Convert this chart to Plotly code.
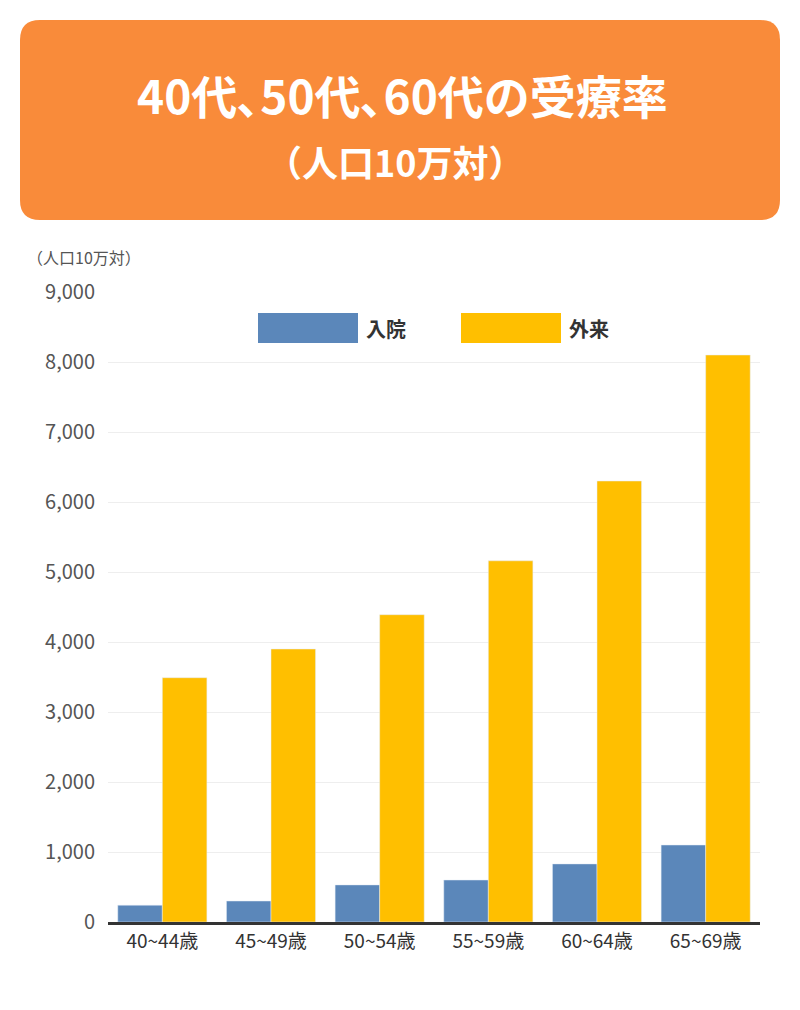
import plotly.graph_objects as go

ages = ["40~44歳", "45~49歳", "50~54歳", "55~59歳", "60~64歳", "65~69歳"]
inpatient = [240, 300, 530, 600, 830, 1100]
outpatient = [3490, 3900, 4390, 5160, 6300, 8100]
yticks = [0, 1000, 2000, 3000, 4000, 5000, 6000, 7000, 8000, 9000]

BLUE = "#5B87BA"
GOLD = "#FFBF00"
ORANGE = "#F98B3A"
FONT = "Noto Sans CJK JP"

# page has an 8px body margin, so the figure is drawn 8px smaller and offset
OFF = 8
W, H = 800 - OFF, 1010 - OFF
L, R, T, B = 108, 760, 292, 922  # plot area in window pixels
def px(x): return (x - L) / (R - L)
def py(y): return (B - y) / (B - T)
def ty(y, size): return py(y - 0.82 * size)  # CJK font box correction

fig = go.Figure()
fig.add_bar(x=ages, y=inpatient, name="入院", marker_color=BLUE)
fig.add_bar(x=ages, y=outpatient, name="外来", marker_color=GOLD)

# rounded title box
x0, x1, y0, y1, r = 20, 780, 20, 220, 20
path = (f"M {px(x0+r)},{py(y0)} L {px(x1-r)},{py(y0)} Q {px(x1)},{py(y0)} {px(x1)},{py(y0+r)} "
        f"L {px(x1)},{py(y1-r)} Q {px(x1)},{py(y1)} {px(x1-r)},{py(y1)} "
        f"L {px(x0+r)},{py(y1)} Q {px(x0)},{py(y1)} {px(x0)},{py(y1-r)} "
        f"L {px(x0)},{py(y0+r)} Q {px(x0)},{py(y0)} {px(x0+r)},{py(y0)} Z")
shapes = [dict(type="path", path=path, xref="paper", yref="paper",
               fillcolor=ORANGE, line=dict(width=0), layer="below")]
# legend boxes
for (lx, col) in [(258, BLUE), (461, GOLD)]:
    shapes.append(dict(type="rect", xref="paper", yref="paper",
                       x0=px(lx), x1=px(lx + 100), y0=py(343), y1=py(313),
                       fillcolor=col, line=dict(width=0)))

annotations = [
    dict(text="<b>40代､50代､60代の受療率</b>", x=px(402), y=ty(97, 46), xref="paper", yref="paper",
         showarrow=False, font=dict(size=46, color="white", family=FONT)),
    dict(text="<b>（人口10万対）</b>", x=px(395), y=ty(163, 36), xref="paper", yref="paper",
         showarrow=False, font=dict(size=36, color="white", family=FONT)),
    dict(text="（人口10万対）", x=px(25), y=ty(256, 16), xref="paper", yref="paper", xanchor="left",
         showarrow=False, font=dict(size=16, color="#555", family=FONT)),
    dict(text="<b>入院</b>", x=px(364), y=ty(328, 20), xref="paper", yref="paper", xanchor="left",
         showarrow=False, font=dict(size=20, color="#333", family=FONT)),
    dict(text="<b>外来</b>", x=px(567), y=ty(328, 20), xref="paper", yref="paper", xanchor="left",
         showarrow=False, font=dict(size=20, color="#333", family=FONT)),
]

fig.update_layout(
    width=W, height=H,
    margin=dict(l=L - OFF, r=800 - R, t=T - OFF, b=1010 - B),
    paper_bgcolor="white", plot_bgcolor="white",
    barmode="group", bargap=0.18, bargroupgap=0,
    showlegend=False,
    font=dict(family=FONT),
    shapes=shapes, annotations=annotations,
    xaxis=dict(showline=True, linecolor="#333", linewidth=3, ticks="",
               tickfont=dict(size=19, color="#333")),
    yaxis=dict(range=[0, 9000], tickvals=yticks, tickformat=",", showgrid=True,
               gridcolor="#eeeeee", zeroline=False, ticks="", ticklabelstandoff=12,
               tickfont=dict(size=20, color="#555")),
)

fig.write_html("out.html")
